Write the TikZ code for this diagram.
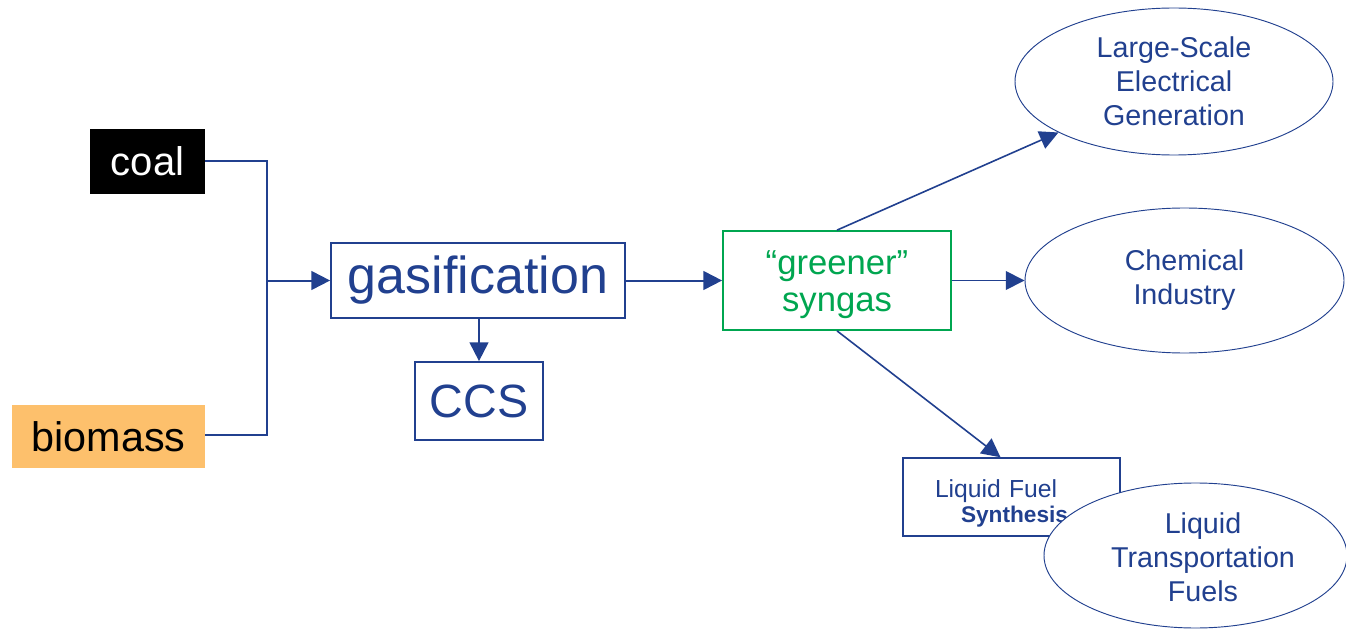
\documentclass[tikz,border=0pt]{standalone}
\usepackage{fontspec}
\setmainfont{Liberation Sans}
\usetikzlibrary{arrows.meta,shapes.geometric}
\definecolor{dblue}{RGB}{33,64,143}
\definecolor{sgreen}{RGB}{0,166,80}
\definecolor{borange}{RGB}{253,192,108}
\tikzset{
  box/.style={draw=dblue, line width=1.3pt, rectangle, inner sep=0pt, text=dblue},
  oval/.style={draw=dblue, line width=0.7pt, ellipse, fill=white, inner sep=0pt, text=dblue, align=center,
    font=\fontsize{21.5pt}{25.5pt}\selectfont},
  conn/.style={draw=dblue, line width=1.5pt},
  arr/.style={conn, -{Triangle[length=14pt,width=14pt]}}
}
\begin{document}
\begin{tikzpicture}[x=0.75pt,y=-0.75pt]
\useasboundingbox (0,0) rectangle (1346,631);
\clip (0,0) rectangle (1346,631);
\node[rectangle, fill=black, text=white, minimum width=86.25pt, minimum height=48.75pt, inner sep=0pt,
  font=\fontsize{30pt}{36pt}\selectfont] (coal) at (147.5,161.5) {coal};
\node[rectangle, fill=borange, text=black, minimum width=144.75pt, minimum height=47.25pt, inner sep=0pt,
  font=\fontsize{31pt}{37pt}\selectfont] (bio) at (108.5,436.5) {biomass};
\node[box, minimum width=220.5pt, minimum height=56.25pt, font=\fontsize{39pt}{44pt}\selectfont]
  (gas) at (478,280.5) {gasification};
\node[box, minimum width=96pt, minimum height=58.5pt, font=\fontsize{35pt}{42pt}\selectfont]
  (ccs) at (479,401) {CCS};
\node[box, draw=sgreen, text=sgreen, minimum width=171pt, minimum height=74.25pt, align=center,
  font=\fontsize{26pt}{28pt}\selectfont] (sg) at (837,280.5) {\rule{0pt}{24pt}“greener”\\syngas};
\node[box, line width=1.1pt, minimum width=162.75pt, minimum height=58.5pt, inner xsep=24pt,
  text width=114.75pt, align=left, font=\fontsize{18.5pt}{18.75pt}\selectfont]
  (lfs) at (1011.5,497) {\rule{0pt}{22.5pt}Liquid Fuel\\\hspace*{19.5pt}{\fontsize{17pt}{18.75pt}\selectfont\bfseries Synthesis}};
\node[oval, minimum width=238.5pt, minimum height=110.25pt] (e1) at (1174,81.5)
  {Large-Scale\\Electrical\\Generation};
\node[oval, minimum width=239.25pt, minimum height=108.75pt] (e2) at (1184.5,280.5)
  {Chemical\\Industry};
\node[oval, minimum width=227.25pt, minimum height=108.75pt] (e3) at (1195.5,555.5) {};
\node[text=dblue, align=center, font=\fontsize{21.5pt}{25.5pt}\selectfont] (e3t) at (1203,557)
  {Liquid\\Transportation\\Fuels};
\coordinate (j) at (267,280.5);
\draw[conn] (coal.east) -| (j);
\draw[conn] ([yshift=1.5pt]bio.east) -| (j);
\draw[arr] (j) -- (gas.west);
\draw[arr] (gas.south -| ccs.north) -- (ccs.north);
\draw[arr] (gas.east) -- (sg.west);
\draw[arr, line width=1.2pt] (sg.north) -- (e1);
\draw[arr, line width=1.2pt] (sg.east) -- (e2.west);
\draw[arr, line width=1.2pt] (sg.south) -- ([xshift=-8.25pt]lfs.north);
\end{tikzpicture}
\end{document}
